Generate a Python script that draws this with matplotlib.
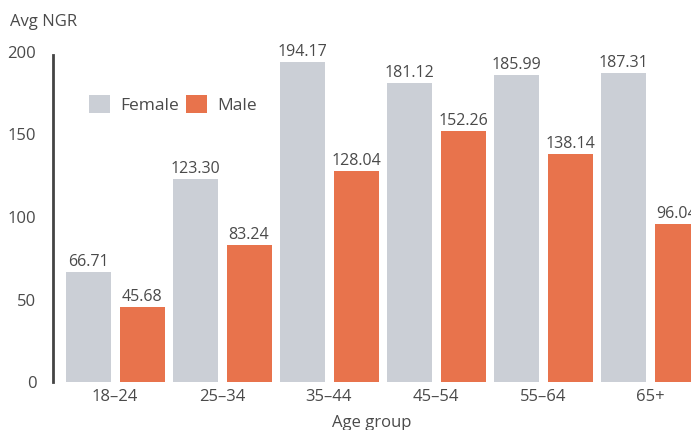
import matplotlib.pyplot as plt
import numpy as np

groups = ['18–24', '25–34', '35–44', '45–54', '55–64', '65+']
female = [66.71, 123.30, 194.17, 181.12, 185.99, 187.31]
male = [45.68, 83.24, 128.04, 152.26, 138.14, 96.04]

grey = '#CBCFD6'
orange = '#E8734C'
txt = '#4A4A4A'

plt.rcParams['font.family'] = ['Open Sans', 'DejaVu Sans']

fig = plt.figure(figsize=(6.91, 4.30), dpi=100)
ax = fig.add_axes([53 / 691, 1 - 382 / 430, 1 - 53 / 691, (382 - 52) / 430])

x = np.arange(len(groups))
w = 45 / 107
off = 27 / 107
b1 = ax.bar(x - off, female, w, color=grey, label='Female')
b2 = ax.bar(x + off, male, w, color=orange, label='Male')

for bars, vals in ((b1, female), (b2, male)):
    for b, v in zip(bars, vals):
        ax.text(b.get_x() + b.get_width() / 2, v + 1.2, '%.2f' % v,
                ha='center', va='bottom', fontsize=11.5, color=txt)

ax.set_xlim(-62 / 107, (691 - 115) / 107)
ax.set_ylim(0, 200)
ax.set_yticks([0, 50, 100, 150, 200])
ax.set_xticks(x)
ax.set_xticklabels(groups)
ax.tick_params(axis='both', length=0, labelsize=12, colors=txt)
ax.tick_params(axis='y', pad=12)
ax.tick_params(axis='x', pad=5)
for s in ['top', 'right', 'bottom']:
    ax.spines[s].set_visible(False)
ax.spines['left'].set_color('#444444')
ax.spines['left'].set_linewidth(2)
ax.spines['left'].set_bounds(0, 198)

ax.set_xlabel('Age group', fontsize=12, color=txt, labelpad=7)
fig.text(10 / 691, 1 - 22 / 430, 'Avg NGR', fontsize=12, color=txt, va='center')

ax.legend(loc='upper left', bbox_to_anchor=(0.04, 0.9), ncol=2, frameon=False,
          fontsize=12.5, labelcolor=txt, handlelength=1.2, handleheight=1.2,
          columnspacing=0.4, handletextpad=0.6, borderaxespad=0.2)

fig.savefig('out.png', dpi=100)
